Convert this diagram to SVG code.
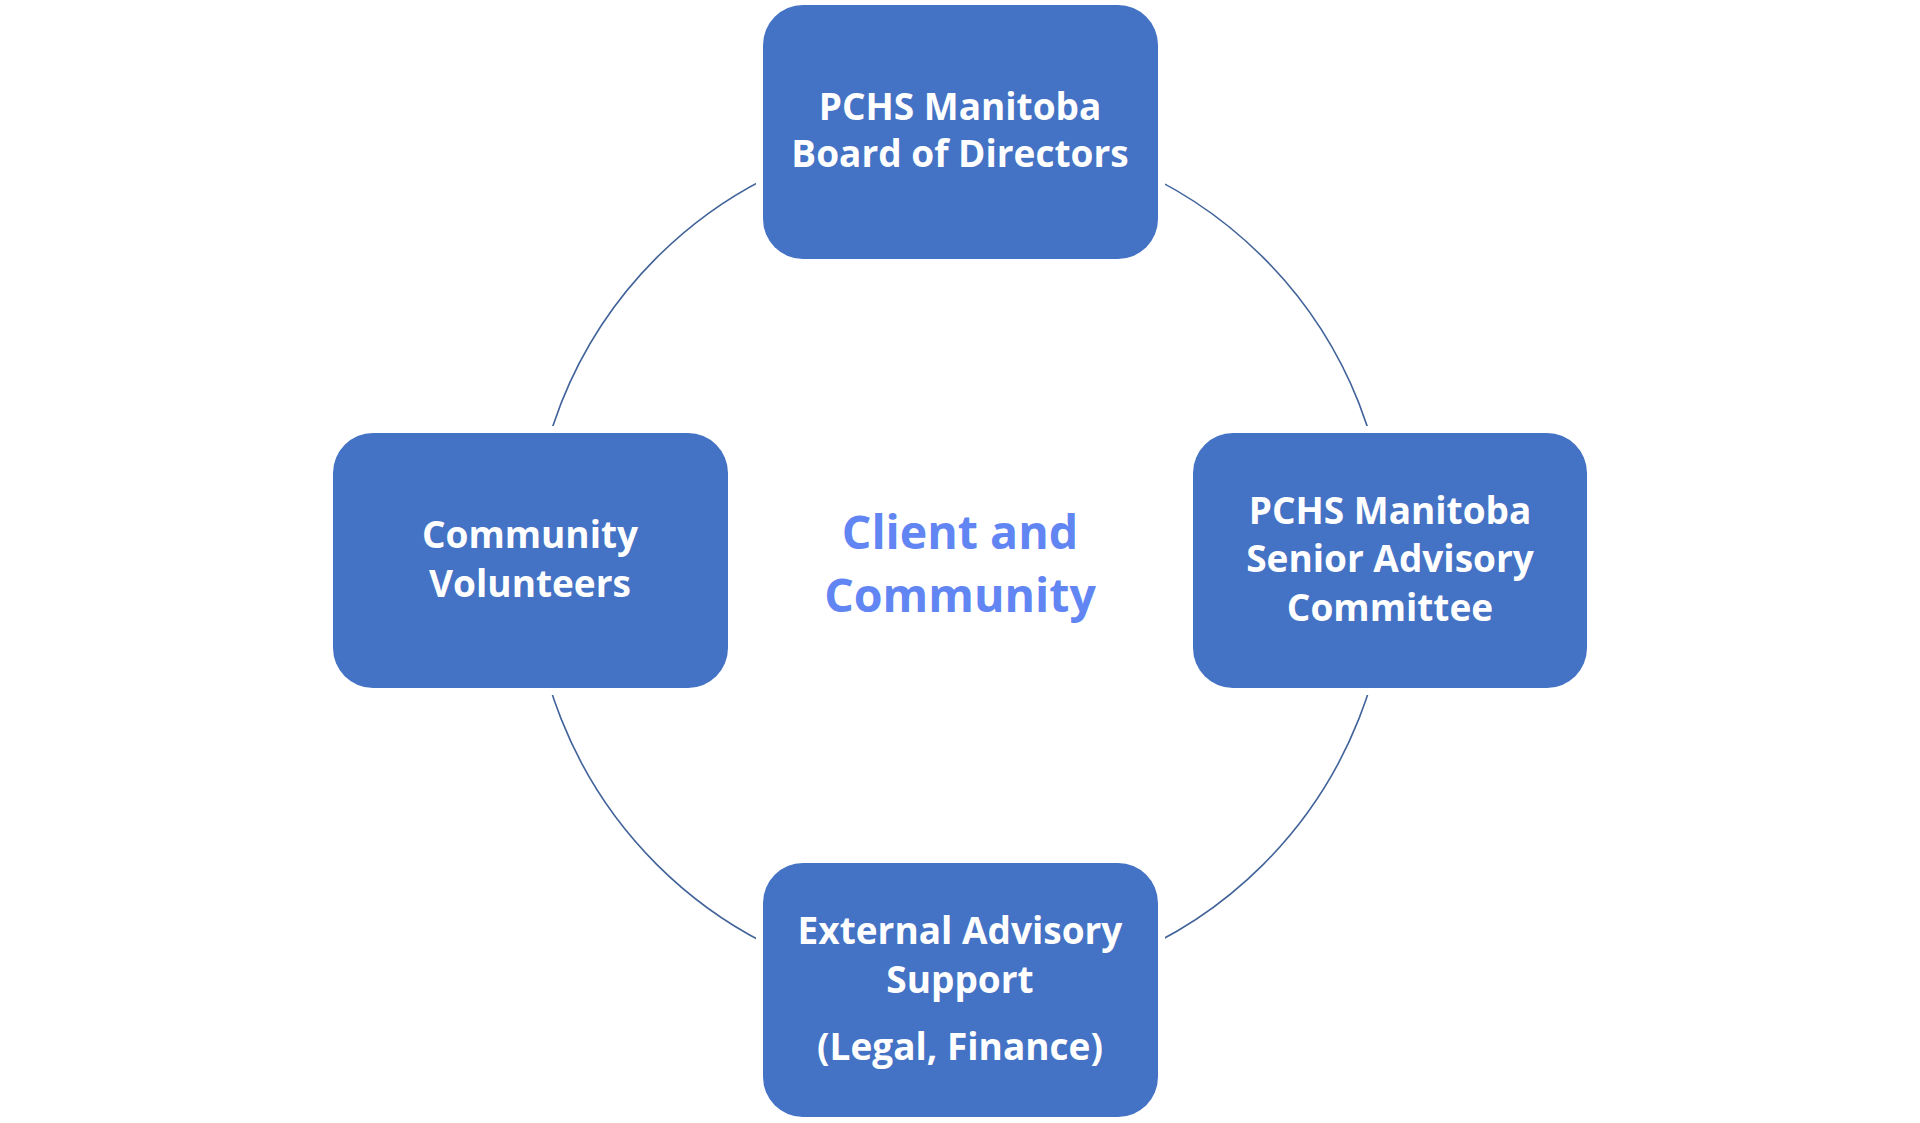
<svg xmlns="http://www.w3.org/2000/svg" width="1920" height="1123" viewBox="0 0 1920 1123">
<style>
.box{fill:#4472C4;stroke:#FFFFFF;stroke-width:14;paint-order:stroke}
.lbl{font-family:"Open Sans","Liberation Sans",sans-serif;font-weight:bold;font-size:37px;fill:#FFFFFF;text-anchor:middle}
.ctr{font-family:"Open Sans","Liberation Sans",sans-serif;font-weight:bold;font-size:46.5px;fill:#6185F2;text-anchor:middle}
.ring{fill:none;stroke:#41639A;stroke-width:1.6}
</style>
<rect width="1920" height="1123" fill="#FFFFFF"/>
<g id="connectors">
<circle class="ring" cx="960" cy="561" r="429"/>
</g>
<g id="node-board">
<rect class="box" x="763" y="5" width="395" height="254" rx="40"/>
<text class="lbl" x="960" y="120">PCHS Manitoba</text>
<text class="lbl" x="960" y="167">Board of Directors</text>
</g>
<g id="node-senior">
<rect class="box" x="1193" y="433" width="394" height="255" rx="40"/>
<text class="lbl" x="1390" y="524">PCHS Manitoba</text>
<text class="lbl" x="1390" y="572">Senior Advisory</text>
<text class="lbl" x="1390" y="621">Committee</text>
</g>
<g id="node-external">
<rect class="box" x="763" y="863" width="395" height="254" rx="40"/>
<text class="lbl" x="960" y="944">External Advisory</text>
<text class="lbl" x="960" y="993">Support</text>
<text class="lbl" x="960" y="1060">(Legal, Finance)</text>
</g>
<g id="node-volunteers">
<rect class="box" x="333" y="433" width="395" height="255" rx="40"/>
<text class="lbl" x="530" y="548">Community</text>
<text class="lbl" x="530" y="597">Volunteers</text>
</g>
<g id="node-center">
<text class="ctr" x="960" y="549">Client and</text>
<text class="ctr" x="960" y="612">Community</text>
</g>
</svg>
